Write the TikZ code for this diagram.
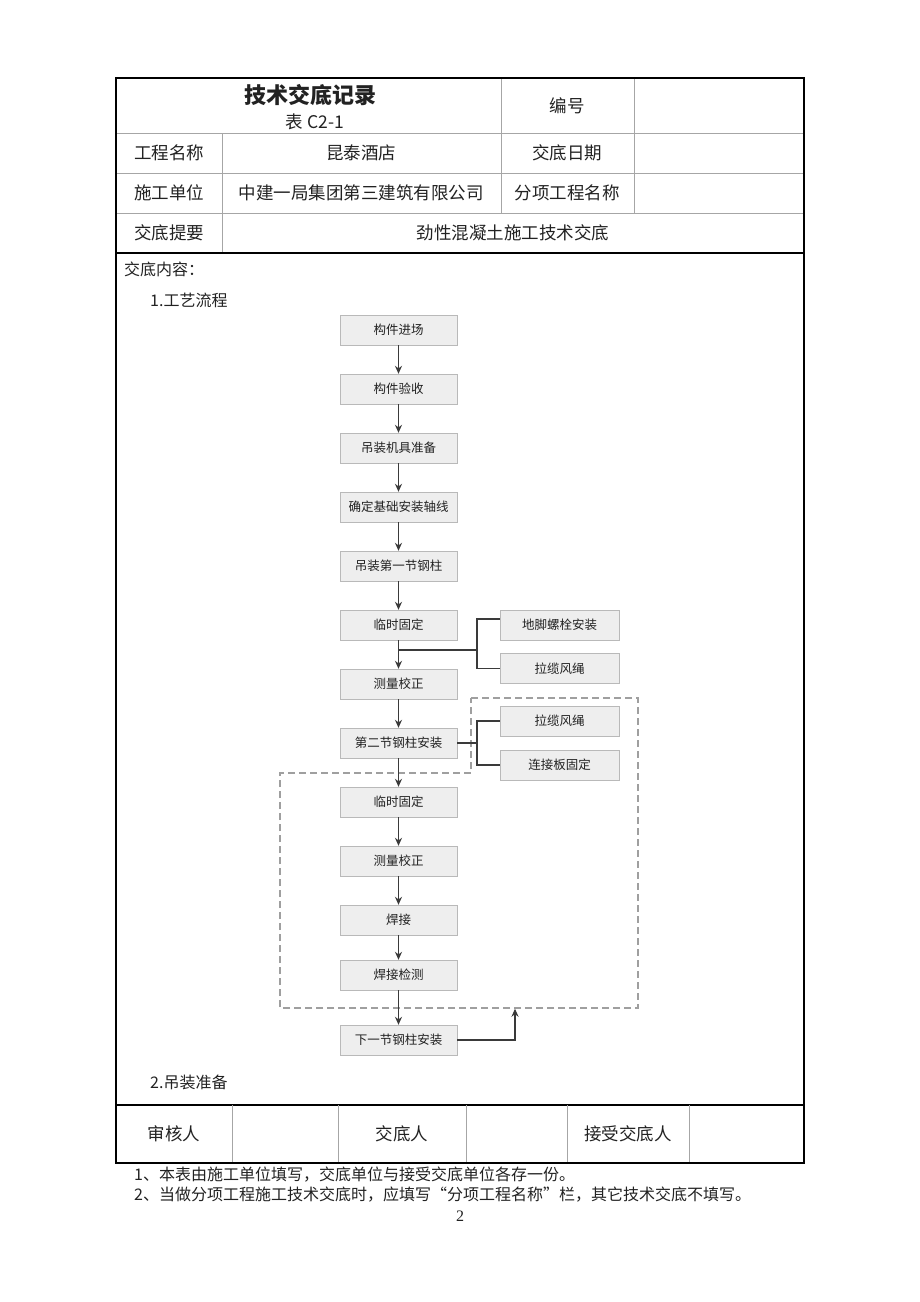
\documentclass[tikz,border=0pt]{standalone}
\usepackage{fontspec}
\setmainfont{Liberation Serif}
\newfontfamily\cjk{Noto Sans CJK SC}
\usetikzlibrary{arrows.meta}
\definecolor{ink}{HTML}{222222}
\definecolor{lne}{HTML}{3a3a3a}
\tikzset{
  cell/.style={font=\cjk\fontsize{17.5}{20}\selectfont, text=ink, inner sep=0pt},
  note/.style={font=\cjk\fontsize{16}{19}\selectfont, text=ink, inner sep=0pt, anchor=west},
  fbox/.style={draw=gray!55, fill=gray!13, minimum width=117pt, minimum height=30pt, inner sep=0pt,
     font=\cjk\fontsize{12.5}{14}\selectfont, text=ink},
  arr/.style={draw=lne, line width=1.3pt, -{Stealth[length=8pt,width=7pt]}},
  conn/.style={draw=lne, line width=1.3pt},
  thick border/.style={draw=black, line width=1.6pt},
  thin rule/.style={draw=gray!70, line width=0.8pt},
  dashbox/.style={draw=gray!75, line width=1.5pt, dash pattern=on 7pt off 4pt}
}
\begin{document}
\begin{tikzpicture}[x=1pt,y=-1pt]
\useasboundingbox[fill=white] (0,0) rectangle (920,1302);

% ---- table lines ----
\draw[thin rule] (116,133) -- (804,133);
\draw[thin rule] (116,173) -- (804,173);
\draw[thin rule] (116,213) -- (804,213);
\draw[thin rule] (222,133) -- (222,253);
\draw[thin rule] (501,78) -- (501,213);
\draw[thin rule] (634,78) -- (634,213);
\draw[thick border] (116,253) -- (804,253);
\draw[thick border] (116,1105) -- (804,1105);
\foreach \xx in {232,338,466,567,689} {\draw[thin rule] (\xx,1105) -- (\xx,1163);}
\draw[thick border] (116,78) rectangle (804,1163);

% ---- table texts ----
\node[cell, font=\cjk\bfseries\fontsize{22}{24}\selectfont] (title) at (310,95) {技术交底记录};
\node[cell] (tno) at (315,122) {表 C2-1};
\node[cell] (bh) at (567,106) {编号};
\node[cell] (l1) at (169,153) {工程名称};
\node[cell] (v1) at (361,153) {昆泰酒店};
\node[cell] (l1b) at (567,153) {交底日期};
\node[cell] (l2) at (169,193) {施工单位};
\node[cell] (v2) at (361,193) {中建一局集团第三建筑有限公司};
\node[cell] (l2b) at (567,193) {分项工程名称};
\node[cell] (l3) at (169,233) {交底提要};
\node[cell] (v3) at (513,233) {劲性混凝土施工技术交底};
\node[note] (nr) at (124,269) {交底内容：};
\node[note] (s1) at (150,300) {1.工艺流程};
\node[note] (s2) at (150,1082) {2.吊装准备};
\node[cell] (sg1) at (174,1134) {审核人};
\node[cell] (sg2) at (402,1134) {交底人};
\node[cell] (sg3) at (628,1134) {接受交底人};
\node[note] (n1) at (134,1175) {1、本表由施工单位填写，交底单位与接受交底单位各存一份。};
\node[note] (n2) at (134,1195) {2、当做分项工程施工技术交底时，应填写“分项工程名称”栏，其它技术交底不填写。};
\node[inner sep=0pt, font=\fontsize{16}{18}\selectfont, text=ink] (pg) at (460,1216) {2};

% ---- dashed region ----
\draw[dashbox] (471,698) -- (638,698) -- (638,1008) -- (280,1008) -- (280,773) -- (471,773) -- cycle;

% ---- flowchart boxes ----
\node[fbox] (a1) at (398.5,330) {构件进场};
\node[fbox] (a2) at (398.5,389) {构件验收};
\node[fbox] (a3) at (398.5,448) {吊装机具准备};
\node[fbox] (a4) at (398.5,507) {确定基础安装轴线};
\node[fbox] (a5) at (398.5,566) {吊装第一节钢柱};
\node[fbox] (a6) at (398.5,625) {临时固定};
\node[fbox] (a7) at (398.5,684) {测量校正};
\node[fbox] (a8) at (398.5,743) {第二节钢柱安装};
\node[fbox] (a9) at (398.5,802) {临时固定};
\node[fbox] (a10) at (398.5,861) {测量校正};
\node[fbox] (a11) at (398.5,920) {焊接};
\node[fbox] (a12) at (398.5,975) {焊接检测};
\node[fbox] (a13) at (398.5,1040) {下一节钢柱安装};

\node[fbox, minimum width=119pt] (b1) at (559.5,625) {地脚螺栓安装};
\node[fbox, minimum width=119pt] (b2) at (559.5,668.5) {拉缆风绳};
\node[fbox, minimum width=119pt] (b3) at (559.5,721) {拉缆风绳};
\node[fbox, minimum width=119pt] (b4) at (559.5,765) {连接板固定};

% ---- main arrows ----
\foreach \i/\j in {a1/a2,a2/a3,a3/a4,a4/a5,a5/a6,a6/a7,a7/a8,a8/a9,a9/a10,a10/a11,a11/a12,a12/a13}
  {\draw[arr] (\i) -- (\j);}

% ---- branches ----
\coordinate (j1) at (398.5,650);
\coordinate (k1) at (477,650);
\draw[conn] (j1) -- (k1);
\draw[conn] ([yshift=6pt]b1.west) -| (k1) |- (b2.west);
\coordinate (k2) at (477,743);
\draw[conn] (a8.east) -- (k2);
\draw[conn] (b3.west) -| (k2) |- (b4.west);

% ---- return arrow ----
\coordinate (r1) at (515,1008.7);
\draw[arr] (a13.east) -| (r1);
\end{tikzpicture}
\end{document}
